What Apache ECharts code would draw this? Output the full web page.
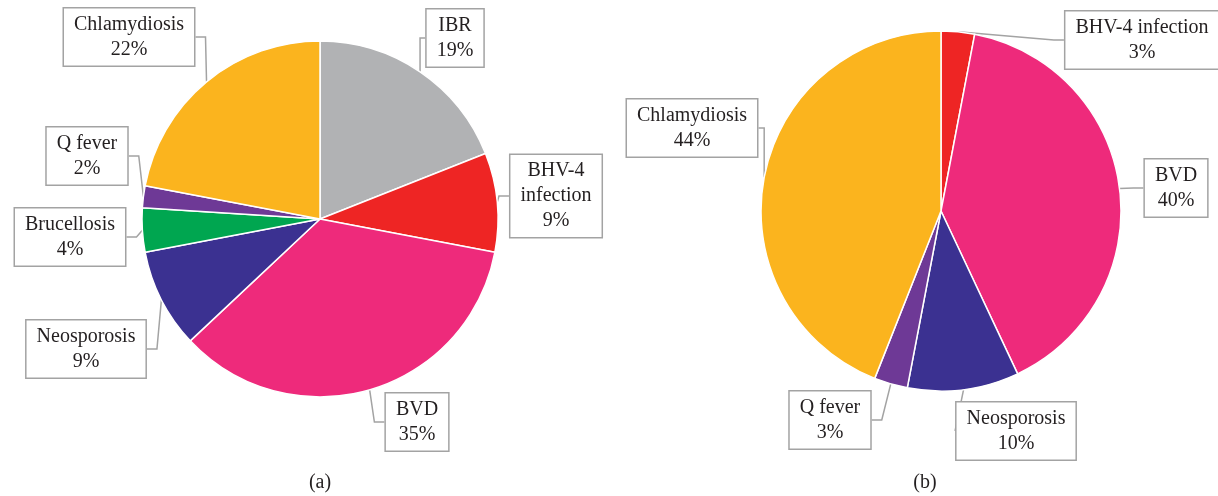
<!DOCTYPE html>
<html>
<head>
<meta charset="utf-8">
<script src="https://cdn.jsdelivr.net/npm/echarts@6/dist/echarts.min.js"></script>
<style>
  html, body { margin: 0; padding: 0; background: #fff; }
  #chart { width: 1218px; height: 496px; }
</style>
</head>
<body>
<div id="chart"></div>
<script>
// (a) left pie
const leftNames = ['IBR', 'BHV-4 infection', 'BVD', 'Neosporosis', 'Brucellosis', 'Q fever', 'Chlamydiosis'];
const leftLabels = ['IBR', 'BHV-4\ninfection', 'BVD', 'Neosporosis', 'Brucellosis', 'Q fever', 'Chlamydiosis'];
const leftValues = [19, 9, 35, 9, 4, 2, 22];
const leftColors = ['#b1b2b4', '#ee2524', '#ee2a7b', '#3b3191', '#00a650', '#6e3996', '#fbb41e'];

// (b) right pie
const rightNames = ['BHV-4 infection', 'BVD', 'Neosporosis', 'Q fever', 'Chlamydiosis'];
const rightValues = [3, 40, 10, 3, 44];
const rightColors = ['#ee2524', '#ee2a7b', '#3b3191', '#6e3996', '#fbb41e'];

// label box centres (layout only)
const leftBoxPos = [[455, 38], [556, 196], [417, 422], [86, 349], [70, 237], [87, 156], [129, 37]];
const rightBoxPos = [[1142, 40], [1176, 188], [1016, 431], [830, 420], [692, 128]];

const font = '"Liberation Serif", "DejaVu Serif", serif';

function makeSeries(names, labels, values, colors, center, radius, boxPos) {
  return {
    type: 'pie',
    center: center,
    radius: radius,
    startAngle: 90,
    clockwise: true,
    avoidLabelOverlap: false,
    animation: false,
    itemStyle: { borderColor: '#ffffff', borderWidth: 1.5 },
    label: {
      show: true,
      position: 'outside',
      formatter: function (p) { return labels[p.dataIndex] + '\n' + p.value + '%'; },
      fontFamily: font,
      fontSize: 20,
      lineHeight: 25,
      color: '#231f20',
      align: 'center',
      backgroundColor: '#ffffff',
      borderColor: '#a3a3a3',
      borderWidth: 1.5,
      padding: [4, 10, 3, 10]
    },
    labelLine: {
      show: true,
      length: 10,
      length2: 10,
      lineStyle: { color: '#a3a3a3', width: 1.5 }
    },
    labelLayout: function (p) {
      const pos = boxPos[p.dataIndex];
      return { x: pos[0], y: pos[1], align: 'center', verticalAlign: 'middle' };
    },
    data: names.map(function (n, i) {
      return { name: n, value: values[i], itemStyle: { color: colors[i] } };
    })
  };
}

const chart = echarts.init(document.getElementById('chart'), null, { renderer: 'canvas' });
chart.setOption({
  backgroundColor: '#ffffff',
  animation: false,
  series: [
    makeSeries(leftNames, leftLabels, leftValues, leftColors, [320, 219], 178, leftBoxPos),
    makeSeries(rightNames, rightNames, rightValues, rightColors, [941, 211], 180, rightBoxPos)
  ],
  graphic: [
    { type: 'text', x: 320, y: 483, style: { text: '(a)', fontFamily: font, fontSize: 20, fill: '#231f20', textAlign: 'center', textVerticalAlign: 'middle' } },
    { type: 'text', x: 925, y: 483, style: { text: '(b)', fontFamily: font, fontSize: 20, fill: '#231f20', textAlign: 'center', textVerticalAlign: 'middle' } }
  ]
});
</script>
</body>
</html>
